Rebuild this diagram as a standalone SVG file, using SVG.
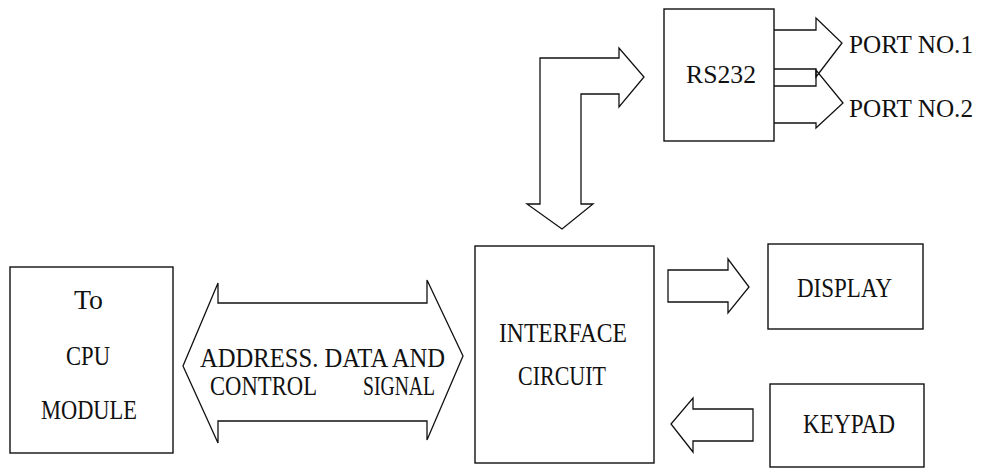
<svg xmlns="http://www.w3.org/2000/svg" width="982" height="468" viewBox="0 0 982 468">
  <style>
    .box { fill: #fff; stroke: #111; stroke-width: 1.4; }
    .arrow { fill: none; stroke: #111; stroke-width: 1.3; stroke-linejoin: miter; }
    .lbl { font-family: "Liberation Serif", "Times New Roman", serif; font-size: 27px; fill: #111; }
    .sm { font-size: 26px; }
  </style>
  <rect width="982" height="468" fill="#fff"/>

  <!-- block-shaped connectors -->
  <g id="connectors">
    <!-- bus between CPU module and interface circuit -->
    <polygon class="arrow" points="183,366 218,283 218,303 427,303 427,280 463,356 427,440 427,421 218,421 218,443"/>
    <!-- interface circuit to RS232 (bent, double-headed) -->
    <polygon class="arrow" points="540,204 540,58 619,58 619,48 644,77 619,107 619,94 581,94 581,204 593,204 562,229 527,204"/>
    <!-- RS232 outputs -->
    <polyline class="arrow" points="774,30 816,30 816,18 842,43 816,77 816,69 774,69"/>
    <polyline class="arrow" points="774,86 816,86 816,70 843,103 816,128 816,123 774,123"/>
    <!-- interface to display -->
    <polygon class="arrow" points="668,270 728,270 728,259 749,287 728,313 728,302 668,302"/>
    <!-- keypad to interface -->
    <polygon class="arrow" points="753,409 693,409 693,398 671,424 693,452 693,441 753,441"/>
  </g>

  <!-- labels inside the bus arrow -->
  <g id="bus-label">
    <text class="lbl" x="200" y="367" textLength="245" lengthAdjust="spacingAndGlyphs">ADDRESS. DATA AND</text>
    <text class="lbl" x="210" y="395" textLength="107" lengthAdjust="spacingAndGlyphs">CONTROL</text>
    <text class="lbl" x="363" y="395" textLength="72" lengthAdjust="spacingAndGlyphs">SIGNAL</text>
  </g>

  <g id="cpu-module">
    <rect class="box" x="10" y="267" width="163" height="186"/>
    <text class="lbl" x="74" y="309" textLength="29" lengthAdjust="spacingAndGlyphs">To</text>
    <text class="lbl" x="66" y="365" textLength="44" lengthAdjust="spacingAndGlyphs">CPU</text>
    <text class="lbl" x="41" y="419" textLength="96" lengthAdjust="spacingAndGlyphs">MODULE</text>
  </g>

  <g id="interface-circuit">
    <rect class="box" x="475" y="246" width="179" height="217"/>
    <text class="lbl" x="499" y="342" textLength="128" lengthAdjust="spacingAndGlyphs">INTERFACE</text>
    <text class="lbl" x="518" y="385" textLength="88" lengthAdjust="spacingAndGlyphs">CIRCUIT</text>
  </g>

  <g id="rs232">
    <rect class="box" x="664" y="9" width="110" height="132"/>
    <text class="lbl sm" x="686" y="83" textLength="70" lengthAdjust="spacingAndGlyphs">RS232</text>
  </g>

  <g id="port1">
    <text class="lbl sm" x="849" y="53" textLength="124" lengthAdjust="spacingAndGlyphs">PORT NO.1</text>
  </g>
  <g id="port2">
    <text class="lbl sm" x="849" y="117" textLength="124" lengthAdjust="spacingAndGlyphs">PORT NO.2</text>
  </g>

  <g id="display">
    <rect class="box" x="768" y="244" width="155" height="85"/>
    <text class="lbl" x="797" y="297" textLength="95" lengthAdjust="spacingAndGlyphs">DISPLAY</text>
  </g>

  <g id="keypad">
    <rect class="box" x="770" y="384" width="154" height="83"/>
    <text class="lbl" x="803" y="433" textLength="92" lengthAdjust="spacingAndGlyphs">KEYPAD</text>
  </g>
</svg>
